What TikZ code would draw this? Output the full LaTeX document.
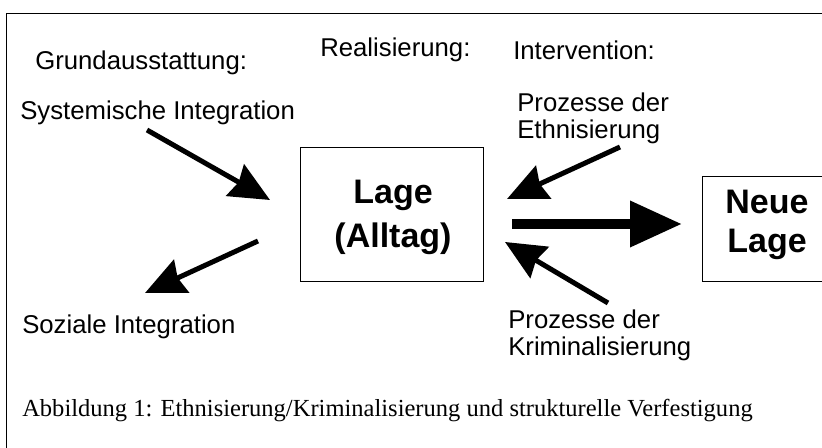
\documentclass[tikz,border=0pt]{standalone}
\usepackage{fontspec}
\setmainfont{Liberation Sans}
\newfontfamily\capfont{Liberation Serif}
\usetikzlibrary{arrows.meta}
\tikzset{
	lbl/.style={anchor=west,inner sep=0pt,align=left,
		font=\fontsize{19.3}{20.5}\selectfont},
	lagebox/.style={inner sep=0pt,align=center,
		font=\fontsize{25.5}{33.5}\selectfont\bfseries},
	pfeil/.style={line width=3.75pt,
		-{Stealth[length=30pt,width=27pt,inset=3pt]}},
	dickpfeil/.style={line width=7.5pt,
		-{Triangle[length=39pt,width=33pt]}}
}
\begin{document}
\begin{tikzpicture}[x=0.75pt,y=-0.75pt]
	\useasboundingbox (0,0) rectangle (822,448);
	\draw (6,13) rectangle (850,480);
	\foreach \x/\y/\name/\texn in {35/63/gr/Grundausstattung:,
		320/50/re/Realisierung:, 513/50/in/Intervention:,
		20/113/si/Systemische Integration,
		22/327/so/Soziale Integration}
	\path (\x,\y) node[lbl](\name){\texn};
	\node[lbl] (et) at (517,118.5) {Prozesse der\\Ethnisierung};
	\node[lbl] (kr) at (508,335.5) {Prozesse der\\Kriminalisierung};
	\node[draw,minimum width=137.25pt,minimum height=100.5pt]
		(lagebx) at (391.5,214.5) {};
	\node[lagebox] (lage) at (393,217.5) {Lage\\(Alltag)};
	\node[draw,minimum width=111pt,minimum height=78.75pt]
		(neubox) at (776,228.5) {};
	\node[lagebox,font=\fontsize{25.5}{29.5}\selectfont\bfseries]
		(neu) at (767,225) {Neue\\Lage};
	\foreach \n/\x/\y in {s1/147/130, s2/270/200, z1/258/241, z2/145/293,
		e1/620/147, e2/507/199, k1/608/303, k2/505/242,
		d1/512/224, d2/682/224}
	\coordinate (\n) at (\x,\y);
	\draw[pfeil] (s1)--(s2);
	\draw[pfeil] (z1)--(z2);
	\draw[pfeil] (e1)--(e2);
	\draw[pfeil] (k1)--(k2);
	\draw[dickpfeil] (d1)--(d2);
	\node[lbl,font=\capfont\fontsize{18.4}{21}\selectfont] (cap) at (22,411)
		{Abbildung 1: Ethnisierung/Kriminalisierung und strukturelle Verfestigung};
\end{tikzpicture}
\end{document}
